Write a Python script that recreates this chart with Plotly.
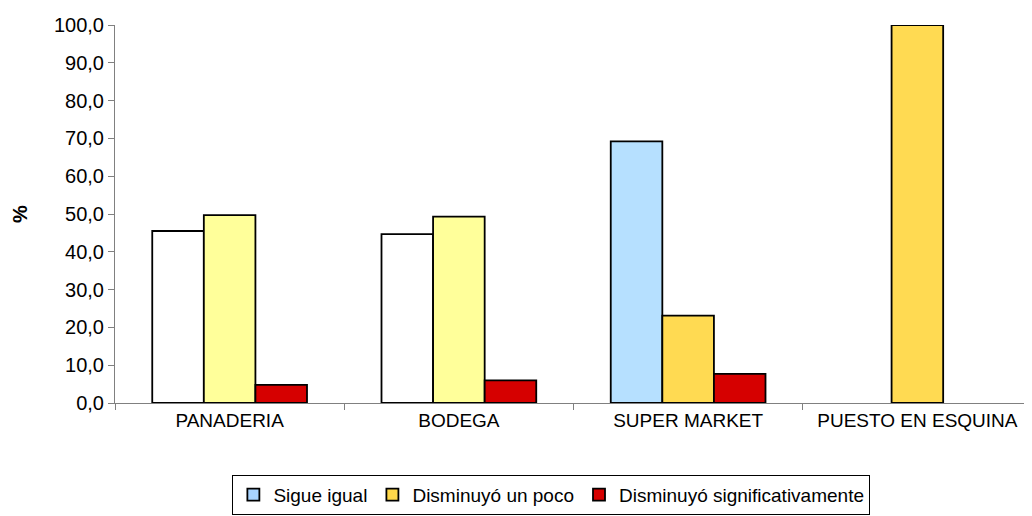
import plotly.graph_objects as go

categories = ["PANADERIA", "BODEGA", "SUPER MARKET", "PUESTO EN ESQUINA"]
series_names = ["Sigue igual", "Disminuyó un poco", "Disminuyó significativamente"]
sigue_igual = [45.5, 44.7, 69.2, None]
disminuyo_poco = [49.7, 49.3, 23.1, 100.0]
disminuyo_signif = [4.8, 6.0, 7.7, None]
y_ticks = [0, 10, 20, 30, 40, 50, 60, 70, 80, 90, 100]

# per-bar fill colours (the original uses gradient fills that vary per category)
colors_sigue = ["#FFFFFF", "#FFFFFF", "#B6E0FF", "#B6E0FF"]
colors_poco = ["#FFFF9A", "#FFFF9A", "#FFDA52", "#FFDA52"]
colors_signif = ["#D60000", "#D60000", "#D60000", "#D60000"]
legend_colors = ["#A8D4FF", "#FFD84A", "#D60000"]

fig = go.Figure()
for i, (name, vals, cols) in enumerate([
    (series_names[0], sigue_igual, colors_sigue),
    (series_names[1], disminuyo_poco, colors_poco),
    (series_names[2], disminuyo_signif, colors_signif),
]):
    fig.add_trace(go.Bar(
        x=categories, y=vals, name=name, offsetgroup=str(i),
        marker=dict(color=cols, line=dict(color="#000000", width=1.8)),
        showlegend=False,
    ))

# legend entries with the series' representative colour (share offset groups)
for i, (name, col) in enumerate(zip(series_names, legend_colors)):
    fig.add_trace(go.Bar(
        x=[categories[0]], y=[None], name=name, offsetgroup=str(i),
        marker=dict(color=col, line=dict(color="#000000", width=1.8)),
        showlegend=True,
    ))

fig.update_layout(
    width=1024, height=508,
    margin=dict(l=107, r=0, t=17, b=113),
    paper_bgcolor="white", plot_bgcolor="white",
    barmode="group", bargap=0.325, bargroupgap=0,
    separators=",.",
    font=dict(family="Liberation Sans, Arial, sans-serif", size=20, color="#000000"),
    legend=dict(
        orientation="h", x=0.128, xanchor="left", y=-0.19, yanchor="top",
        bordercolor="#000000", borderwidth=1,
        font=dict(size=19), itemwidth=30, tracegroupgap=0,
        traceorder="normal",
    ),
    showlegend=True,
)
fig.update_xaxes(
    showline=True, linecolor="#808080", linewidth=1,
    ticks="outside", ticklen=6, tickcolor="#808080", tickson="boundaries",
    tickfont=dict(size=19), showgrid=False,
)
fig.update_yaxes(
    range=[0, 100], tickvals=y_ticks, tickformat=".1f",
    showline=True, linecolor="#808080", linewidth=1,
    ticks="outside", ticklen=6, tickcolor="#808080",
    showgrid=False, zeroline=False, tickfont=dict(size=20),
    title=dict(text="<b>%</b>", font=dict(size=20), standoff=20),
)

fig.write_html("out.html")
